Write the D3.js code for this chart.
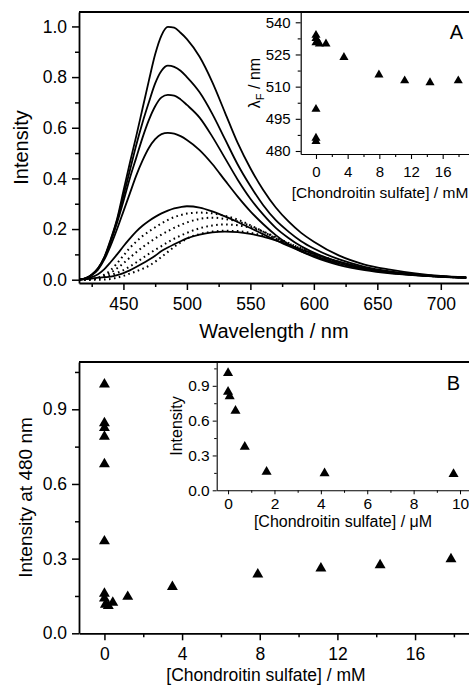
<!DOCTYPE html>
<html><head><meta charset="utf-8">
<script src="https://cdn.jsdelivr.net/npm/d3@7"></script>
<style>
body{margin:0;background:#fff}
svg{display:block}
text{font-family:"Liberation Sans",Arial,Helvetica,sans-serif;fill:#000}
</style>
</head><body>
<svg id="chart" width="469" height="685"></svg>
<script>
// ---------- DATA ----------
const wavelengthsNm = [415,420,425,430,435,440,445,450,455,460,465,470,475,480,485,490,495,500,510,520,530,540,550,560,570,580,590,600,620,640,660,680,700,720];
const solid1 = [0,.005,.02,.045,.09,.16,.24,.35,.46,.565,.675,.785,.89,.965,.998,.995,.975,.95,.88,.78,.66,.54,.44,.355,.285,.23,.185,.15,.095,.06,.04,.025,.015,.01];
const solid2 = [0,.005,.02,.045,.088,.155,.235,.33,.43,.53,.62,.7,.775,.825,.845,.84,.825,.8,.74,.655,.555,.455,.37,.295,.235,.19,.152,.123,.08,.051,.033,.021,.013,.008];
const solid3 = [0,.005,.019,.043,.085,.15,.225,.31,.4,.48,.56,.63,.685,.72,.73,.727,.712,.69,.64,.565,.48,.395,.32,.258,.205,.165,.132,.107,.07,.045,.03,.019,.012,.008];
const solid4 = [0,.005,.018,.04,.08,.135,.2,.27,.34,.41,.47,.52,.555,.575,.58,.577,.567,.552,.512,.457,.392,.328,.27,.22,.176,.14,.112,.09,.058,.038,.025,.017,.011,.007];
const solid5 = [0,.003,.01,.022,.042,.07,.1,.132,.162,.19,.213,.232,.248,.262,.273,.282,.287,.29,.285,.27,.25,.228,.204,.18,.156,.133,.112,.094,.063,.042,.028,.018,.012,.008];
const solid6 = [0,.002,.004,.008,.01,.012,.018,.026,.037,.05,.064,.079,.095,.113,.127,.14,.152,.163,.178,.187,.19,.188,.181,.17,.155,.138,.12,.102,.07,.046,.03,.02,.013,.008];
const dotted1 = [0,0,.002,.008,.02,.038,.065,.095,.125,.15,.172,.19,.207,.222,.236,.247,.255,.261,.265,.262,.252,.237,.215,.19,.163,.138,.115,.095,.063,.042,.028,.019,.012,.008];
const dotted2 = [0,0,.002,.006,.015,.028,.045,.065,.087,.108,.128,.146,.163,.178,.192,.205,.216,.226,.24,.245,.24,.23,.212,.19,.165,.14,.117,.097,.065,.043,.029,.019,.012,.008];
const dotted3 = [0,0,.001,.004,.01,.018,.027,.038,.052,.068,.085,.102,.118,.133,.148,.162,.174,.185,.203,.214,.218,.215,.205,.19,.168,.145,.122,.1,.067,.044,.029,.019,.012,.008];
const dotted4 = [0,0,0,0,.001,.003,.008,.015,.024,.033,.043,.055,.071,.09,.11,.13,.147,.162,.18,.19,.193,.192,.185,.174,.16,.143,.124,.104,.07,.046,.03,.02,.013,.008];

const insetAConc   = [0,0,0,0.2,0.43,1.26,0,0,0,3.53,7.95,11.2,14.4,17.97];
const insetALambda = [534,532.5,530.5,531,530,530,499.5,486,484.5,523.7,515.5,512.8,511.9,512.8];

const mainBConc      = [0,0,0,0,0,0,0,0,0.05,0.2,0.43,1.2,3.5,7.9,11.15,14.2,17.85];
const mainBIntensity = [1.0,0.845,0.825,0.79,0.68,0.37,0.16,0.14,0.115,0.11,0.123,0.147,0.187,0.237,0.261,0.274,0.298];

const insetBConcUM    = [0,0,0.07,0.32,0.72,1.66,4.16,9.72];
const insetBIntensity = [1.01,0.848,0.81,0.685,0.375,0.16,0.146,0.14];

const spectraXTicks = [450,500,550,600,650,700];
const spectraXMinor = [425,475,525,575,625,675,725];
const spectraYTicks = [0,0.2,0.4,0.6,0.8,1.0];
const spectraYMinor = [0.1,0.3,0.5,0.7,0.9];
const insetAXTicks = [0,4,8,12,16];
const insetAXMinor = [2,6,10,14,18];
const insetAYTicks = [480,495,510,525,540];
const insetAYMinor = [487.5,502.5,517.5,532.5];
const mainBXTicks = [0,4,8,12,16];
const mainBXMinor = [2,6,10,14,18];
const mainBYTicks = [0,0.3,0.6,0.9];
const mainBYMinor = [0.15,0.45,0.75,1.05];
const insetBXTicks = [0,2,4,6,8,10];
const insetBXMinor = [1,3,5,7,9];
const insetBYTicks = [0,0.3,0.6,0.9];
const insetBYMinor = [0.15,0.45,0.75,1.05];

// ---------- DRAW ----------
const svg = d3.select("#chart");
const fmt1 = d3.format(".1f");
const fmt0 = d3.format("d");

function axis(g, scale, orient, major, minor, o) {
  const mk = orient === "left" ? d3.axisLeft : d3.axisBottom;
  const gMin = g.append("g").attr("transform", o.tr)
    .call(mk(scale).tickValues(minor).tickSize(o.minLen).tickSizeOuter(0).tickFormat(""));
  gMin.select(".domain").remove();
  const gMaj = g.append("g").attr("transform", o.tr)
    .call(mk(scale).tickValues(major).tickSize(o.majLen).tickSizeOuter(0).tickPadding(o.pad).tickFormat(o.fmt));
  [gMin, gMaj].forEach(a => {
    a.selectAll("line").attr("stroke", "#000").attr("stroke-width", o.tw);
    a.selectAll(".domain").attr("stroke", "#000").attr("stroke-width", o.dw);
    a.selectAll("text").style("font-size", o.fs + "px").attr("fill", "#000")
      .style("font-family", '"Liberation Sans",Arial,sans-serif');
  });
  return gMaj;
}

// ===== Panel A =====
const ax = d3.scaleLinear().domain([415, 723]).range([79, 470]);
const ay = d3.scaleLinear().domain([-0.013, 1.057]).range([283, 12]);
const gA = svg.append("g");
svg.append("defs").append("clipPath").attr("id", "clipA")
  .append("rect").attr("x", 79).attr("y", 12).attr("width", 391).attr("height", 271);

const line = d3.line().x((d, i) => ax(wavelengthsNm[i])).y(d => ay(d)).curve(d3.curveMonotoneX);
const curves = gA.append("g").attr("clip-path", "url(#clipA)");
[dotted1, dotted2, dotted3, dotted4].forEach(s => {
  curves.append("path").attr("d", line(s)).attr("fill", "none").attr("stroke", "#000")
    .attr("stroke-width", 2).attr("stroke-dasharray", "1.6,3.4").attr("stroke-linecap", "butt");
});
[solid1, solid2, solid3, solid4, solid5, solid6].forEach(s => {
  curves.append("path").attr("d", line(s)).attr("fill", "none").attr("stroke", "#000")
    .attr("stroke-width", 1.8);
});

axis(gA, ay, "left", spectraYTicks, spectraYMinor, {tr: "translate(79,0)", majLen: 7, minLen: 4, pad: 5, fmt: fmt1, fs: 17.5, tw: 1.5, dw: 1.8});
axis(gA, ax, "bottom", spectraXTicks, spectraXMinor, {tr: "translate(0,283)", majLen: 7, minLen: 4, pad: 8, fmt: fmt0, fs: 17.5, tw: 1.5, dw: 1.8});
gA.append("line").attr("x1", 79).attr("x2", 470).attr("y1", 12).attr("y2", 12).attr("stroke", "#000").attr("stroke-width", 1.8);
gA.append("text").attr("transform", "translate(28,147.5) rotate(-90)").attr("text-anchor", "middle")
  .style("font-size", "20px").text("Intensity");
gA.append("text").attr("x", 274).attr("y", 338).attr("text-anchor", "middle")
  .style("font-size", "20px").text("Wavelength / nm");

// Inset A
const iax = d3.scaleLinear().domain([-1.93, 19.45]).range([300.7, 470]);
const iay = d3.scaleLinear().domain([478.6, 544.8]).range([154, 12]);
axis(gA, iay, "left", insetAYTicks, insetAYMinor, {tr: "translate(300.7,0)", majLen: 5, minLen: 3, pad: 5, fmt: fmt0, fs: 15, tw: 1.1, dw: 1.2});
axis(gA, iax, "bottom", insetAXTicks, insetAXMinor, {tr: "translate(0,154)", majLen: 5, minLen: 3, pad: 7, fmt: fmt0, fs: 15, tw: 1.1, dw: 1.2});
const triA = d3.symbol().type(d3.symbolTriangle).size(36);
gA.append("g").selectAll("path").data(insetAConc).join("path")
  .attr("d", triA).attr("fill", "#000")
  .attr("transform", (d, i) => `translate(${iax(d)},${iay(insetALambda[i])})`);
const lamLabel = gA.append("text").attr("transform", "translate(260,83) rotate(-90)").attr("text-anchor", "middle")
  .style("font-size", "16px");
lamLabel.append("tspan").text("λ");
lamLabel.append("tspan").attr("dy", 4).style("font-size", "11px").text("F");
lamLabel.append("tspan").attr("dy", -4).text(" / nm");
gA.append("text").attr("x", 380).attr("y", 198).attr("text-anchor", "middle")
  .style("font-size", "15.5px").text("[Chondroitin sulfate] / mM");
gA.append("text").attr("x", 463).attr("y", 39).attr("text-anchor", "end")
  .style("font-size", "20px").text("A");

// ===== Panel B =====
const bx = d3.scaleLinear().domain([-1.31, 18.83]).range([79, 470]);
const by = d3.scaleLinear().domain([0, 1.09]).range([633.3, 362]);
const gB = svg.append("g");
axis(gB, by, "left", mainBYTicks, mainBYMinor, {tr: "translate(79,0)", majLen: 7, minLen: 4, pad: 5, fmt: fmt1, fs: 17.5, tw: 1.5, dw: 1.8});
axis(gB, bx, "bottom", mainBXTicks, mainBXMinor, {tr: "translate(0,633.3)", majLen: 7, minLen: 4, pad: 7, fmt: fmt0, fs: 17.5, tw: 1.5, dw: 1.8});
gB.append("line").attr("x1", 79).attr("x2", 470).attr("y1", 362).attr("y2", 362).attr("stroke", "#000").attr("stroke-width", 1.8);
const triB = d3.symbol().type(d3.symbolTriangle).size(52);
gB.append("g").selectAll("path").data(mainBConc).join("path")
  .attr("d", triB).attr("fill", "#000")
  .attr("transform", (d, i) => `translate(${bx(d)},${by(mainBIntensity[i])})`);
gB.append("text").attr("transform", "translate(32,497.5) rotate(-90)").attr("text-anchor", "middle")
  .style("font-size", "19px").text("Intensity at 480 nm");
gB.append("text").attr("x", 266).attr("y", 681).attr("text-anchor", "middle")
  .style("font-size", "17.5px").text("[Chondroitin sulfate] / mM");
gB.append("text").attr("x", 460).attr("y", 390).attr("text-anchor", "end")
  .style("font-size", "20px").text("B");

// Inset B
const ibx = d3.scaleLinear().domain([-0.49, 10.43]).range([216.7, 470]);
const iby = d3.scaleLinear().domain([0, 1.105]).range([490.3, 362]);
axis(gB, iby, "left", insetBYTicks, insetBYMinor, {tr: "translate(216.7,0)", majLen: 4, minLen: 2.5, pad: 3, fmt: fmt1, fs: 15.5, tw: 1, dw: 1.1});
axis(gB, ibx, "bottom", insetBXTicks, insetBXMinor, {tr: "translate(0,490.3)", majLen: 4, minLen: 2.5, pad: 4, fmt: fmt0, fs: 15.5, tw: 1, dw: 1.1});
const triIB = d3.symbol().type(d3.symbolTriangle).size(44);
gB.append("g").selectAll("path").data(insetBConcUM).join("path")
  .attr("d", triIB).attr("fill", "#000")
  .attr("transform", (d, i) => `translate(${ibx(d)},${iby(insetBIntensity[i])})`);
gB.append("text").attr("transform", "translate(182,426) rotate(-90)").attr("text-anchor", "middle")
  .style("font-size", "16px").text("Intensity");
gB.append("text").attr("x", 343).attr("y", 527).attr("text-anchor", "middle")
  .style("font-size", "16px").text("[Chondroitin sulfate] / \u03bcM");
</script>
</body></html>
